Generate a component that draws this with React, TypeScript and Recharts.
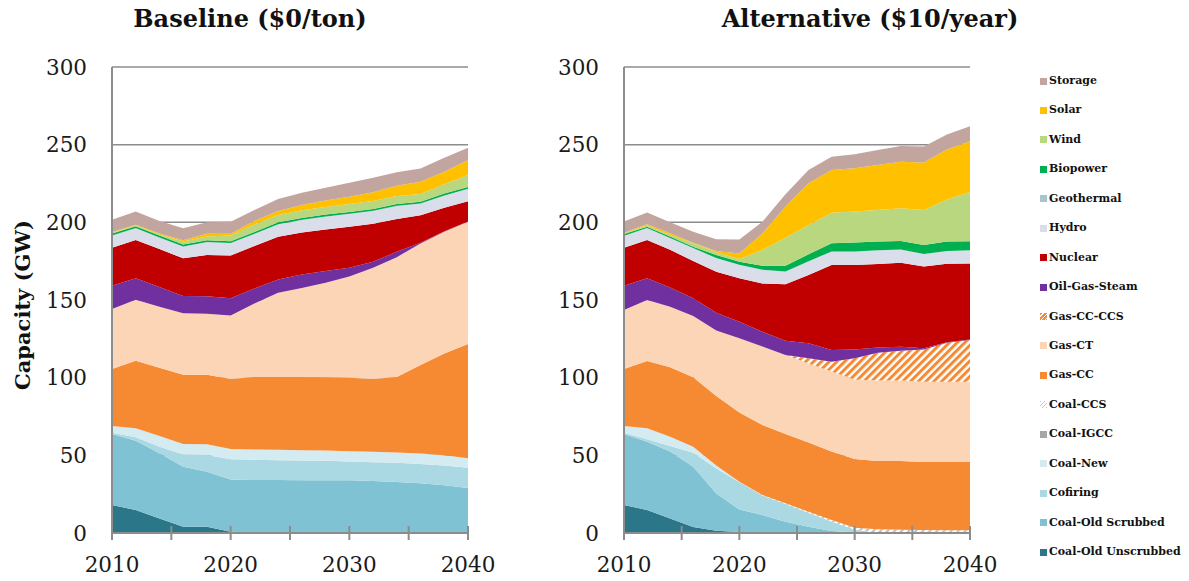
import { Area, AreaChart, CartesianGrid, XAxis, YAxis } from "recharts";

const YEARS = [2010, 2012, 2014, 2016, 2018, 2020, 2022, 2024, 2026, 2028, 2030, 2032, 2034, 2036, 2038, 2040];
const X_TICKS = [2010, 2015, 2020, 2025, 2030, 2035, 2040];
const Y_TICKS = [0, 50, 100, 150, 200, 250, 300];

// Baseline ($0/ton), GW per technology
const BASE_UNSCRUBBED = [18, 14.8, 9.4, 4.1, 4.1, 0.8, 0.3, 0.3, 0.3, 0.3, 0.3, 0.3, 0.3, 0.3, 0.3, 0.3];
const BASE_SCRUBBED = [45.7, 44.6, 41.9, 38.6, 35.4, 33.7, 33.9, 33.9, 33.7, 33.7, 33.6, 33.2, 32.5, 31.7, 30.4, 28.6];
const BASE_COFIRING = [0.9, 2.2, 4.3, 7.9, 10.7, 12.9, 12.9, 12.7, 12.7, 12.5, 12.1, 12.1, 12.4, 12.4, 12.8, 13.1];
const BASE_COAL_NEW = [4.3, 5.8, 6.8, 6.7, 6.9, 6.7, 6.7, 6.7, 6.6, 6.6, 6.7, 6.7, 6.7, 6.8, 6.6, 6.2];
const BASE_COAL_IGCC = [0, 0, 0, 0, 0, 0, 0, 0, 0, 0, 0, 0, 0, 0, 0, 0];
const BASE_COAL_CCS = [0, 0, 0, 0, 0, 0, 0, 0, 0, 0, 0, 0, 0, 0, 0, 0];
const BASE_GAS_CC = [36.7, 43.5, 44.0, 44.6, 44.8, 45.0, 46.7, 46.9, 47.2, 47.2, 47.2, 46.9, 48.6, 56.9, 65.5, 73.4];
const BASE_GAS_CT = [38.6, 39.3, 39.3, 39.5, 39.3, 41.0, 47.3, 54.1, 57.3, 60.8, 65.2, 71.5, 77.1, 78.3, 78.3, 78.7];
const BASE_GAS_CC_CCS = [0, 0, 0, 0, 0, 0, 0, 0, 0, 0, 0, 0, 0, 0, 0, 0];
const BASE_OGS = [15, 13.8, 12.7, 11.2, 11.2, 11.0, 9.6, 8.6, 8.6, 7.5, 5.6, 3.9, 3.4, 0.4, 0.4, 0.2];
const BASE_NUCLEAR = [24.5, 24.6, 24.4, 24.2, 26.6, 27.5, 27.3, 27.5, 27.1, 26.8, 26.4, 24.5, 21.1, 17.8, 15.1, 13.1];
const BASE_HYDRO = [7.7, 7.5, 7.3, 7.5, 8.1, 7.9, 7.7, 7.9, 7.9, 8.2, 8.2, 8.1, 8.3, 7.3, 7.7, 7.8];
const BASE_GEOTHERMAL = [0.2, 0.2, 0.2, 0.2, 0.2, 0.2, 0.2, 0.2, 0.2, 0.2, 0.2, 0.2, 0.2, 0.2, 0.2, 0.2];
const BASE_BIOPOWER = [1.2, 1.2, 1.2, 1.2, 1.2, 1.2, 1.2, 1.2, 1.2, 1.2, 1.2, 1.2, 1.2, 1.2, 1.2, 1.2];
const BASE_WIND = [0.5, 0.5, 0.6, 2.0, 2.4, 3.6, 4.8, 4.8, 5.0, 4.8, 5.1, 5.1, 5.2, 5.0, 6.0, 7.7];
const BASE_SOLAR = [0.4, 0.4, 0.7, 0.8, 1.7, 1.1, 2.3, 2.5, 3.4, 4.2, 4.7, 5.6, 6.6, 7.9, 8.1, 9.6];
const BASE_STORAGE = [7.9, 8.6, 8.0, 7.7, 7.5, 7.8, 7.1, 7.7, 7.8, 8.3, 9.0, 9.4, 8.6, 8.4, 9.0, 7.9];

// Alternative ($10/year)
const ALT_UNSCRUBBED = [18, 14.8, 9.4, 3.9, 1.5, 0.6, 0, 0, 0, 0, 0, 0, 0, 0, 0, 0];
const ALT_SCRUBBED = [45.7, 44, 43, 38.8, 24, 14.6, 11.6, 7.3, 4.1, 1.3, 0.3, 0, 0, 0, 0, 0];
const ALT_COFIRING = [0.9, 1.5, 3.6, 9, 16, 17.5, 12.6, 11.3, 9, 6.1, 1.9, 0, 0, 0, 0, 0];
const ALT_COAL_NEW = [4.3, 7.1, 6.0, 3.9, 2.0, 0.3, 0, 0, 0, 0, 0, 0, 0, 0, 0, 0];
const ALT_COAL_IGCC = [0, 0, 0, 0, 0, 0, 0, 0, 0, 0, 0, 0, 0, 0, 0, 0];
const ALT_COAL_CCS = [0, 0, 0, 0, 0, 0, 0.3, 0.5, 0.6, 1.0, 1.2, 2.4, 2.1, 1.9, 1.7, 1.7];
const ALT_GAS_CC = [36.7, 43.3, 44.7, 44.6, 44.7, 44.5, 45, 44.6, 44.5, 44, 44.2, 44, 44.2, 43.8, 44, 44];
const ALT_GAS_CT = [38, 39.3, 39, 39.5, 42.1, 47.8, 50.5, 50.9, 51, 51.5, 51.3, 51.7, 51.8, 51.7, 51.7, 51.7];
const ALT_GAS_CC_CCS = [0, 0, 0, 0, 0, 0, 0, 0, 3.3, 6.4, 13.6, 18, 19.3, 20.7, 25.1, 26.9];
const ALT_OGS = [15.6, 14, 12.3, 11.4, 11.5, 10.7, 9.6, 9.2, 9.6, 7.5, 5.7, 3.4, 2.5, 0.8, 0.3, 0.3];
const ALT_NUCLEAR = [24.5, 24.6, 24.3, 24, 26.4, 28, 31.1, 36.3, 44, 54.7, 54.3, 53.7, 54.1, 52.6, 50.5, 48.9];
const ALT_HYDRO = [7.5, 7.6, 7.4, 8.2, 8.6, 8.5, 8.6, 8.1, 8.6, 8.6, 8.6, 8.6, 8.3, 7.9, 8.1, 8.4];
const ALT_GEOTHERMAL = [0.2, 0.2, 0.2, 0.2, 0.2, 0.2, 0.2, 0.2, 0.2, 0.2, 0.2, 0.2, 0.2, 0.2, 0.2, 0.2];
const ALT_BIOPOWER = [1.1, 0.8, 0.9, 0.8, 2.0, 2.0, 2.6, 3.7, 4.5, 5.2, 5.7, 5.6, 5.5, 5.8, 6.1, 5.8];
const ALT_WIND = [0.4, 0.7, 1.1, 2.2, 1.7, 1.7, 10.1, 18, 18.9, 19.7, 19.9, 20.4, 21, 22.6, 27, 31.7];
const ALT_SOLAR = [0.4, 0.8, 1.0, 0.4, 0.8, 3.6, 10.7, 20, 26.8, 27.5, 27.9, 28.9, 30, 30.6, 32.2, 32.6];
const ALT_STORAGE = [7.3, 7.7, 7.1, 7.1, 7.6, 9, 7.5, 7.9, 8.6, 8.6, 9, 9.7, 10.2, 10.2, 9.6, 9.7];

// stack order, bottom first
const SERIES = [
  { key: "unscrubbed", label: "Coal-Old Unscrubbed", color: "#2B7689" },
  { key: "scrubbed", label: "Coal-Old Scrubbed", color: "#7FC2D3" },
  { key: "cofiring", label: "Cofiring", color: "#AAD8E3" },
  { key: "coalNew", label: "Coal-New", color: "#D4EBF1" },
  { key: "coalIgcc", label: "Coal-IGCC", color: "#A6A6A6" },
  { key: "coalCcs", label: "Coal-CCS", color: "pattern:coalccs" },
  { key: "gasCc", label: "Gas-CC", color: "#F68A33" },
  { key: "gasCt", label: "Gas-CT", color: "#FBD5B6" },
  { key: "gasCcCcs", label: "Gas-CC-CCS", color: "pattern:gasccs" },
  { key: "ogs", label: "Oil-Gas-Steam", color: "#7030A0" },
  { key: "nuclear", label: "Nuclear", color: "#C00000" },
  { key: "hydro", label: "Hydro", color: "#D9DEEA" },
  { key: "geothermal", label: "Geothermal", color: "#A7C4CF" },
  { key: "biopower", label: "Biopower", color: "#00B050" },
  { key: "wind", label: "Wind", color: "#B8D77E" },
  { key: "solar", label: "Solar", color: "#FFC000" },
  { key: "storage", label: "Storage", color: "#C3A59F" },
];

const BASE_VALUES: Record<string, number[]> = {
  unscrubbed: BASE_UNSCRUBBED, scrubbed: BASE_SCRUBBED, cofiring: BASE_COFIRING, coalNew: BASE_COAL_NEW,
  coalIgcc: BASE_COAL_IGCC, coalCcs: BASE_COAL_CCS, gasCc: BASE_GAS_CC, gasCt: BASE_GAS_CT,
  gasCcCcs: BASE_GAS_CC_CCS, ogs: BASE_OGS, nuclear: BASE_NUCLEAR, hydro: BASE_HYDRO,
  geothermal: BASE_GEOTHERMAL, biopower: BASE_BIOPOWER, wind: BASE_WIND, solar: BASE_SOLAR, storage: BASE_STORAGE,
};
const ALT_VALUES: Record<string, number[]> = {
  unscrubbed: ALT_UNSCRUBBED, scrubbed: ALT_SCRUBBED, cofiring: ALT_COFIRING, coalNew: ALT_COAL_NEW,
  coalIgcc: ALT_COAL_IGCC, coalCcs: ALT_COAL_CCS, gasCc: ALT_GAS_CC, gasCt: ALT_GAS_CT,
  gasCcCcs: ALT_GAS_CC_CCS, ogs: ALT_OGS, nuclear: ALT_NUCLEAR, hydro: ALT_HYDRO,
  geothermal: ALT_GEOTHERMAL, biopower: ALT_BIOPOWER, wind: ALT_WIND, solar: ALT_SOLAR, storage: ALT_STORAGE,
};

function toRows(values: Record<string, number[]>) {
  return YEARS.map((year, i) => {
    const row: Record<string, number> = { year };
    SERIES.forEach((s) => (row[s.key] = values[s.key][i]));
    return row;
  });
}

const SERIF = "'DejaVu Serif', 'Liberation Serif', serif";
const AXIS_GREY = "#8c8c8c";

function YearTick({ x, y, payload }: any) {
  return (
    <g>
      <line x1={x} x2={x} y1={y - 7} y2={y + 7} stroke={AXIS_GREY} strokeWidth={2} />
      {payload.value % 10 === 0 && (
        <text x={x} y={y + 39} textAnchor="middle" fontSize={21.5} fontFamily={SERIF} fill="#1a1a1a">
          {payload.value}
        </text>
      )}
    </g>
  );
}

function StackChart({ id, values, left, width, right }: { id: string; values: Record<string, number[]>; left: number; width: number; right: number }) {
  const fillFor = (c: string) => (c.startsWith("pattern:") ? `url(#${id}-${c.slice(8)})` : c);
  return (
    <div style={{ position: "absolute", left, top: 0 }}>
      <AreaChart width={width} height={581} data={toRows(values)} margin={{ top: 67, right, bottom: 8, left: 62 }}>
        <defs>
          <pattern id={`${id}-gasccs`} width="5.5" height="5.5" patternUnits="userSpaceOnUse" patternTransform="rotate(45)">
            <rect width="5.5" height="5.5" fill="#ffffff" />
            <rect width="3" height="5.5" fill="#F68A33" />
          </pattern>
          <pattern id={`${id}-coalccs`} width="5" height="5" patternUnits="userSpaceOnUse" patternTransform="rotate(45)">
            <rect width="5" height="5" fill="#ffffff" />
            <rect width="2" height="5" fill="#bdbdbd" />
          </pattern>
        </defs>
        <CartesianGrid vertical={false} stroke={AXIS_GREY} strokeWidth={1.5} />
        <YAxis
          type="number"
          domain={[0, 300]}
          ticks={Y_TICKS}
          width={50}
          tickLine={false}
          tickSize={0}
          tickMargin={25}
          axisLine={{ stroke: AXIS_GREY, strokeWidth: 2 }}
          tick={{ fontSize: 21.5, fontFamily: SERIF, fill: "#1a1a1a" }}
        />
        {SERIES.map((s) => (
          <Area
            key={s.key}
            type="linear"
            dataKey={s.key}
            name={s.label}
            stackId="cap"
            stroke="none"
            fill={fillFor(s.color)}
            fillOpacity={1}
            dot={false}
            activeDot={false}
            isAnimationActive={false}
          />
        ))}
        <XAxis
          type="number"
          dataKey="year"
          domain={[2010, 2040]}
          ticks={X_TICKS}
          interval={0}
          height={40}
          tickLine={false}
          tickSize={0}
          tickMargin={0}
          axisLine={{ stroke: AXIS_GREY, strokeWidth: 2 }}
          tick={<YearTick />}
        />
      </AreaChart>
    </div>
  );
}

function LegendSwatch({ color }: { color: string }) {
  let background = color;
  if (color === "pattern:gasccs") background = "repeating-linear-gradient(135deg, #F68A33 0 2px, #fff 2px 3px)";
  if (color === "pattern:coalccs") background = "repeating-linear-gradient(135deg, #c8c8c8 0 1px, #fff 1px 3px)";
  return <span style={{ display: "inline-block", width: 7, height: 7, background, marginRight: 2 }} />;
}

export default function App() {
  const legendItems = [...SERIES].reverse();
  return (
    <div style={{ position: "absolute", left: 0, top: 0, width: 1189, height: 581, background: "#fff", overflow: "hidden" }}>
      <div style={{ position: "absolute", left: 0, top: 4, width: 500, textAlign: "center", fontFamily: SERIF, fontWeight: "bold", fontSize: 24, color: "#111" }}>
        Baseline ($0/ton)
      </div>
      <div style={{ position: "absolute", left: 620, top: 4, width: 500, textAlign: "center", fontFamily: SERIF, fontWeight: "bold", fontSize: 24, color: "#111" }}>
        Alternative ($10/year)
      </div>
      <div
        style={{
          position: "absolute",
          left: 22,
          top: 305,
          transform: "translate(-50%, -50%) rotate(-90deg)",
          whiteSpace: "nowrap",
          fontFamily: SERIF,
          fontWeight: "bold",
          fontSize: 21,
          color: "#111",
        }}
      >
        Capacity (GW)
      </div>
      <StackChart id="base" values={BASE_VALUES} left={0} width={510} right={42} />
      <StackChart id="alt" values={ALT_VALUES} left={512} width={510} right={52} />
      <div style={{ position: "absolute", left: 1040, top: 73 }}>
        {legendItems.map((s) => (
          <div
            key={s.key}
            style={{ height: 29.45, display: "flex", alignItems: "flex-start", fontFamily: SERIF, fontWeight: "bold", fontSize: 11, color: "#111", lineHeight: "16px" }}
          >
            <span style={{ display: "flex", alignItems: "center", height: 16, whiteSpace: "nowrap" }}>
              <LegendSwatch color={s.color} />
              {s.label}
            </span>
          </div>
        ))}
      </div>
    </div>
  );
}
